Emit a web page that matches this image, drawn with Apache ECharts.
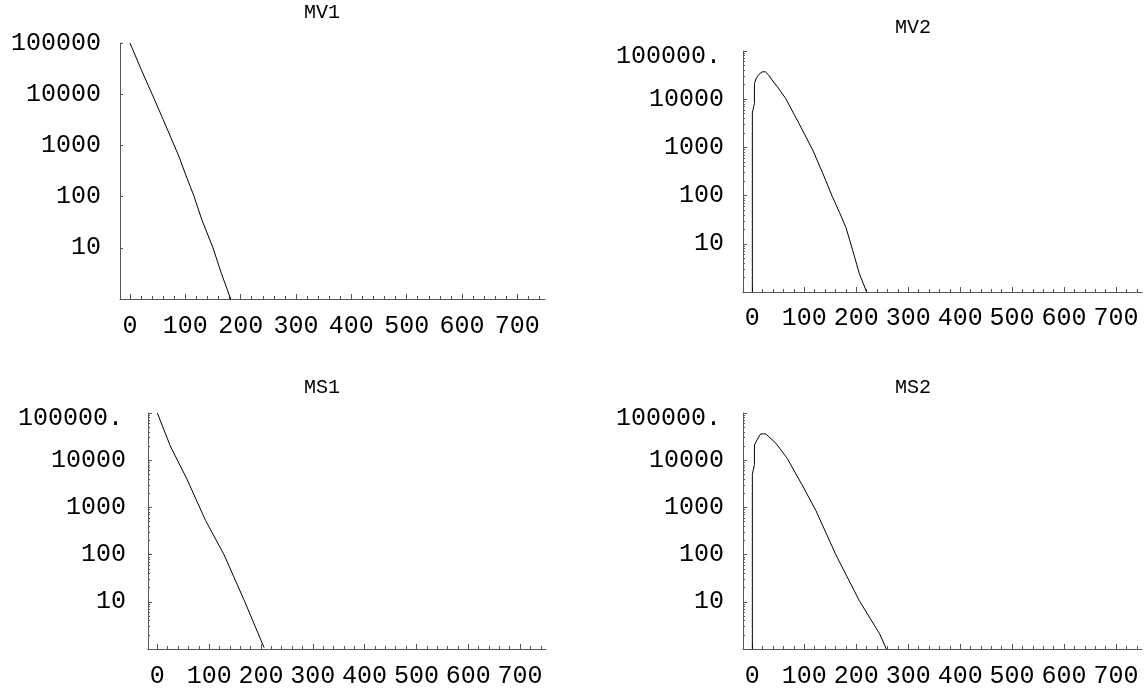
<!DOCTYPE html>
<html><head><meta charset="utf-8">
<script src="https://cdn.jsdelivr.net/npm/echarts@6/dist/echarts.min.js"></script>
<style>html,body{margin:0;padding:0;background:#fff}#c{width:1148px;height:689px}</style>
</head><body><div id="c"></div>
<script>
// ---- data ----
const titles = ['MV1', 'MV2', 'MS1', 'MS2'];

const mv1X = [0, 20, 40, 60, 89, 100, 116, 130, 150, 165, 182];
const mv1Y = [100000, 31000, 10000, 3200, 590, 280, 100, 35, 10, 3.2, 1];

const mv2X = [0, 0, 4, 4, 8, 13, 19, 25, 31, 38, 50, 64, 90, 116, 135, 154, 168, 180, 193, 206, 220];
const mv2Y = [1, 5200, 8200, 21000, 28000, 33000, 37000, 37000, 32000, 25000, 17000, 10400, 3100, 890, 300, 95, 44, 22, 7.4, 2.4, 1];

const ms1X = [0, 25, 57, 93, 129, 168, 206];
const ms1Y = [100000, 20000, 4000, 530, 98, 10.5, 1.07];

const ms2X = [0, 0, 4, 4, 12, 16, 26, 45, 67, 95, 122, 161, 206, 245, 258];
const ms2Y = [1, 5000, 8100, 21000, 31000, 36000, 36000, 23000, 11000, 3100, 870, 98, 10.5, 2.1, 1];

const xTickLabels = [0, 100, 200, 300, 400, 500, 600, 700];
const yTickLabels = [10, 100, 1000, 10000, 100000];

// ---- layout ----
const panels = [
  {xs: mv1X, ys: mv1Y, box: [120, 43, 425, 256], minorY: false, top: '100000', tpos: [322, 13], ymargin: 19, xmargin: 15},
  {xs: mv2X, ys: mv2Y, box: [743, 51, 399, 241], minorY: true, top: '100000.', tpos: [913, 28], ymargin: 19, xmargin: 14},
  {xs: ms1X, ys: ms1Y, box: [148, 413, 398, 239], minorY: true, top: '100000.', tpos: [322, 388], ymargin: 22, xmargin: 15},
  {xs: ms2X, ys: ms2Y, box: [743, 413, 399, 239], minorY: true, top: '100000.', tpos: [913, 388], ymargin: 19, xmargin: 15}
];

const FONT = '"Liberation Mono", "DejaVu Sans Mono", monospace';
const AX = '#555';
const TXT = '#000';
const xMinorTicks = [];
for (let v = 0; v <= 740; v += 20) xMinorTicks.push(v);
const yMinorTicks = [];
[1, 10, 100, 1000, 10000].forEach(d => { for (let k = 2; k <= 9; k++) yMinorTicks.push(d * k); });
const yMajorTicks = [1].concat(yTickLabels);

const grid = [], xAxis = [], yAxis = [], series = [], graphic = [];
panels.forEach((p, i) => {
  grid.push({left: p.box[0], top: p.box[1], width: p.box[2], height: p.box[3], containLabel: false});
  const xBase = {type: 'value', gridIndex: i, min: -18, max: 750, position: 'bottom', splitLine: {show: false}};
  // minor x ticks + axis line
  xAxis.push(Object.assign({}, xBase, {
    axisLine: {show: true, onZero: false, lineStyle: {color: AX, width: 1}},
    axisTick: {show: true, inside: true, length: 3, lineStyle: {color: AX}, customValues: xMinorTicks},
    axisLabel: {show: false}
  }));
  // major x ticks + labels
  xAxis.push(Object.assign({}, xBase, {
    axisLine: {show: false, onZero: false},
    axisTick: {show: true, inside: true, length: 5, lineStyle: {color: AX}, customValues: xTickLabels},
    axisLabel: {show: true, customValues: xTickLabels, margin: p.xmargin, color: TXT, fontFamily: FONT, fontSize: 25}
  }));
  const yBase = {type: 'log', logBase: 10, gridIndex: i, min: 1, max: 100000, position: 'left', splitLine: {show: false}};
  yAxis.push(Object.assign({}, yBase, {
    axisLine: {show: true, onZero: false, lineStyle: {color: AX, width: 1}},
    axisTick: {show: p.minorY, inside: true, length: 2, lineStyle: {color: AX}, customValues: yMinorTicks},
    axisLabel: {show: false}
  }));
  yAxis.push(Object.assign({}, yBase, {
    axisLine: {show: false, onZero: false},
    axisTick: {show: true, inside: true, length: p.minorY ? 4 : 3, lineStyle: {color: AX}, customValues: yMajorTicks},
    axisLabel: {show: true, customValues: yTickLabels, margin: p.ymargin, color: TXT, fontFamily: FONT, fontSize: 25,
      formatter: v => (v >= 99999 ? (p.top === '100000' ? '100000' : '{t|' + p.top + '}') : String(Math.round(v))),
      rich: {t: {fontFamily: FONT, fontSize: 25, color: TXT, padding: [10, 3, 0, 0]}}}
  }));
  series.push({
    type: 'line', xAxisIndex: 2 * i, yAxisIndex: 2 * i, showSymbol: false, symbol: 'none', clip: true,
    lineStyle: {color: '#000', width: 1}, animation: false,
    data: p.xs.map((x, k) => [x, p.ys[k]])
  });
  graphic.push({type: 'text', x: p.tpos[0], y: p.tpos[1],
    style: {text: titles[i], font: '20px ' + FONT, fill: TXT, textAlign: 'center', textVerticalAlign: 'middle'}});
});

const chart = echarts.init(document.getElementById('c'), null, {renderer: 'canvas'});
chart.setOption({animation: false, backgroundColor: '#fff', grid, xAxis, yAxis, series, graphic});
</script></body></html>
